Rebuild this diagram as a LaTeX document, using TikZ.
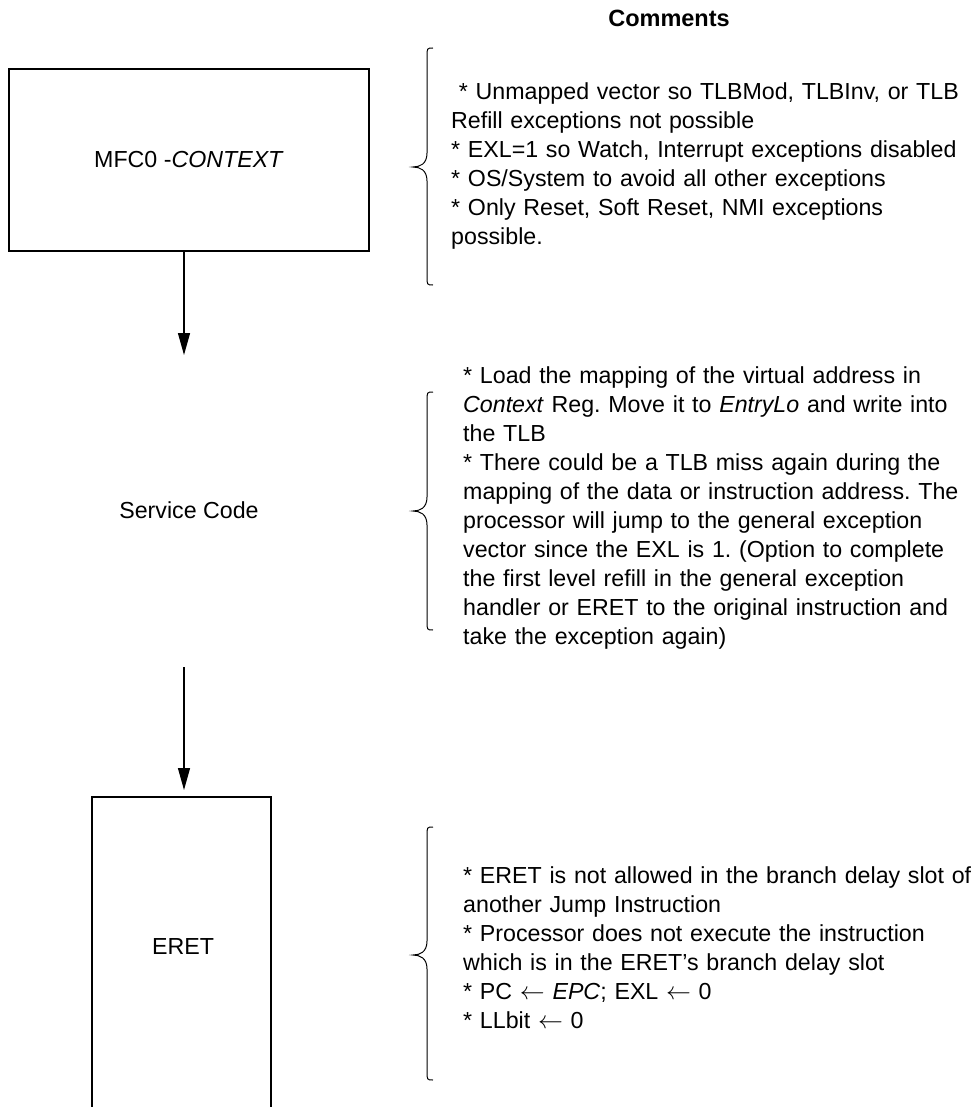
\documentclass[tikz,border=0pt]{standalone}
\usepackage{fontspec}
\setmainfont{Liberation Sans}
\usetikzlibrary{arrows.meta}
\frenchspacing
\newcommand\curlybrace[3]{%
  \draw[brc] (433,#1) .. controls (427,#1) .. (427,#1+9)
    -- (427,#2-14) .. controls (427,#2-3) and (420,#2) .. (413,#2)
    .. controls (420,#2) and (427,#2+3) .. (427,#2+14)
    -- (427,#3-9) .. controls (427,#3) .. (433,#3);}
\begin{document}
\begin{tikzpicture}[x=1pt,y=-1pt,
  txt/.style={font=\fontsize{23.2}{29}\selectfont},
  box/.style={draw, line width=1.6pt, inner sep=0pt},
  arr/.style={line width=1.3pt, -{Triangle[width=12pt,length=22pt]}},
  brc/.style={line width=1pt},
  cmt/.style={txt, anchor=base west, align=left, text width=540pt, inner sep=0pt}]
\useasboundingbox (0,0) rectangle (972,1107);
\clip (0,0) rectangle (972,1107);

\node[font=\fontsize{23.5}{29}\selectfont\bfseries] (comments) at (669,18) {Comments};

\node[box, txt, minimum width=360pt, minimum height=182pt] (mfc) at (189,160) {MFC0 -\textit{CONTEXT}};
\coordinate (a1end) at (184,355);
\draw[arr] (mfc.south -| a1end) -- (a1end);

\node[txt] (svc) at (189,510) {Service Code};
\coordinate (a2start) at (184,667);

\node[box, minimum width=179pt, minimum height=400pt, anchor=north] (eretbox) at (181.5,796) {};
\node[txt] (eret) at (183,947) {ERET};
\draw[arr, shorten >=6pt] (a2start) -- (a2start |- eretbox.north);

\curlybrace{48}{167}{285}
\curlybrace{392}{511}{630}
\curlybrace{827}{955}{1080}

\node[cmt] (c1) at (451,100) {\ * Unmapped vector so TLBMod, TLBInv, or TLB\\Refill exceptions not possible\\{*} EXL=1 so Watch, Interrupt exceptions disabled\\{*} OS/System to avoid all other exceptions\\{*} Only Reset, Soft Reset, NMI exceptions\\possible.};

\node[cmt] (c2) at (463,383) {{*} Load the mapping of the virtual address in\\\textit{Context} Reg. Move it to \textit{EntryLo} and write into\\the TLB\\{*} There could be a TLB miss again during the\\mapping of the data or instruction address. The\\processor will jump to the general exception\\vector since the EXL is 1. (Option to complete\\the first level refill in the general exception\\handler or ERET to the original instruction and\\take the exception again)};

\node[cmt] (c3) at (463,883) {{*} ERET is not allowed in the branch delay slot of\\another Jump Instruction\\{*} Processor does not execute the instruction\\which is in the ERET’s branch delay slot\\{*} PC $\leftarrow$ \textit{EPC}; EXL $\leftarrow$ 0\\{*} LLbit $\leftarrow$ 0};
\end{tikzpicture}
\end{document}
